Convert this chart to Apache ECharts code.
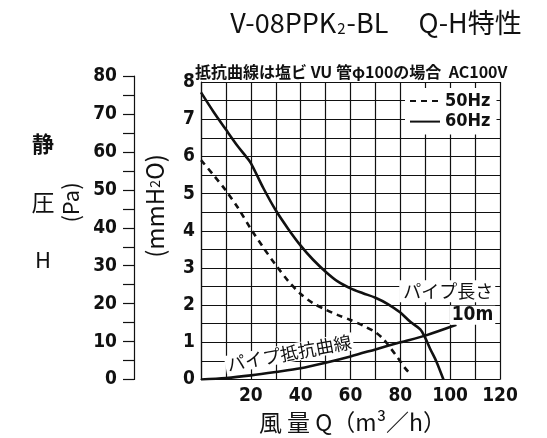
<!DOCTYPE html>
<html><head><meta charset="utf-8">
<script src="https://cdn.jsdelivr.net/npm/echarts@6/dist/echarts.min.js"></script>
<style>html,body{margin:0;padding:0;background:#fff}#c{width:547px;height:438px}</style>
</head><body><div id="c"></div>
<script>
// ---- data ----
const flowTicks = [20, 40, 60, 80, 100, 120];           // 風量 Q (m³/h)
const mmTicks = [0, 1, 2, 3, 4, 5, 6, 7, 8];            // mmH2O
const paTicks = [0, 10, 20, 30, 40, 50, 60, 70, 80];    // Pa
const hz60 = [[0,7.72],[5,7.2],[10,6.72],[15,6.25],[18,6.0],[20,5.82],[25,5.15],[30,4.55],[35,4.05],[40,3.6],[45,3.22],[50,2.9],[55,2.63],[60,2.45],[65,2.32],[70,2.2],[75,2.03],[80,1.8],[84,1.55],[88,1.35],[90,1.12],[92,0.82],[94.5,0.48],[97.3,0]];
const hz50 = [[0,5.9],[5,5.5],[10,5.08],[15,4.6],[20,4.05],[25,3.55],[30,3.08],[35,2.65],[40,2.3],[45,2.05],[50,1.88],[55,1.73],[60,1.6],[65,1.45],[70,1.27],[73,1.1],[76,0.85],[79,0.58],[82,0.3],[84,0.15]];
const pipe = [[0,0],[10,0.04],[20,0.11],[30,0.2],[40,0.3],[50,0.45],[60,0.62],[70,0.81],[80,1.0],[90,1.18],[102.5,1.47]];
const seriesNames = ['50Hz', '60Hz'];

const NUM = '"Liberation Sans Narrow","DejaVu Sans Condensed",sans-serif';
const JP = '"Noto Sans CJK JP",sans-serif';
const INK = '#111';

const chart = echarts.init(document.getElementById('c'));
chart.setOption({
  animation: false,
  backgroundColor: '#fff',
  grid: [
    {left: 201, right: 47, top: 82, bottom: 58.5},
    {left: 134, width: 1, top: 76.1, bottom: 58.5}
  ],
  xAxis: [
    {gridIndex: 0, type: 'value', min: 0, max: 120, interval: 10,
     axisLine: {show: true, lineStyle: {color: INK, width: 1.2}},
     axisTick: {show: false},
     axisLabel: {margin: 7, color: INK, fontSize: 19, fontWeight: 'bold', fontFamily: NUM,
       formatter: v => flowTicks.includes(v) ? String(v) : ''},
     splitLine: {show: true, lineStyle: {color: INK, width: 1.2}}},
    {gridIndex: 1, type: 'value', min: 0, max: 1, show: false}
  ],
  yAxis: [
    {gridIndex: 0, type: 'value', min: 0, max: 8, interval: 0.5,
     axisLine: {show: true, lineStyle: {color: INK, width: 1.2}},
     axisTick: {show: false},
     axisLabel: {margin: 6, color: INK, fontSize: 19, fontWeight: 'bold', fontFamily: NUM,
       formatter: v => mmTicks.includes(v) ? String(v) : ''},
     splitLine: {show: true, lineStyle: {color: INK, width: 1.2}}},
    {gridIndex: 1, type: 'value', min: 0, max: 80, interval: 5,
     axisLine: {show: true, lineStyle: {color: INK, width: 1.2}},
     axisTick: {show: true, length: 11, lineStyle: {color: INK, width: 1.2}},
     axisLabel: {margin: 17, color: INK, fontSize: 19, fontWeight: 'bold', fontFamily: NUM,
       formatter: v => paTicks.includes(v) ? String(v) : ''},
     splitLine: {show: false}}
  ],
  legend: {
    data: seriesNames, orient: 'vertical', left: 405, top: 88,
    backgroundColor: '#fff', padding: [4, 6, 4, 4],
    itemWidth: 30, itemHeight: 12, itemGap: 2.6,
    itemStyle: {opacity: 0},
    textStyle: {color: INK, fontSize: 18, fontWeight: 'bold', fontFamily: NUM, lineHeight: 16}
  },
  series: [
    {name: '50Hz', type: 'line', data: hz50, symbol: 'none', smooth: 0.3, z: 3,
     itemStyle: {color: INK}, lineStyle: {color: INK, width: 2.6, type: [6, 5]}},
    {name: '60Hz', type: 'line', data: hz60, symbol: 'none', smooth: 0.3, z: 3,
     itemStyle: {color: INK}, lineStyle: {color: INK, width: 2.6}},
    {name: 'パイプ抵抗曲線', type: 'line', data: pipe, symbol: 'none', smooth: 0.3, z: 3,
     itemStyle: {color: INK}, lineStyle: {color: INK, width: 2.6}}
  ]
});

const px = p => chart.convertToPixel({gridIndex: 0}, p);
const pLen = px([118.1, 2.37]);
const p10m = px([118.1, 1.73]);
const pPipe = px([35.4, 0.71]);

chart.setOption({
  graphic: [
    {type: 'text', x: 376, y: 22.5, style: {
      text: '{a|V-08PPK}{s|2}{a|-BL     Q-H特性}', align: 'center', verticalAlign: 'middle',
      rich: {a: {fontSize: 27, fontFamily: JP, fill: INK}, s: {fontSize: 15, fontFamily: JP, fill: INK, verticalAlign: 'bottom', padding: [9,1,0,1]}}}},
    {type: 'text', x: 195, y: 71.5, style: {
      text: '抵抗曲線は塩ビ VU 管φ100の場合  AC100V', align: 'left', verticalAlign: 'middle',
      fontSize: 16, fontWeight: 'bold', fontFamily: JP, fill: INK}},
    {type: 'text', x: 43, y: 144, style: {text: '静', align: 'center', verticalAlign: 'middle', fontSize: 22, fontWeight: 'bold', fontFamily: JP, fill: INK}},
    {type: 'text', x: 43, y: 202, style: {text: '圧', align: 'center', verticalAlign: 'middle', fontSize: 23, fontFamily: JP, fill: INK}},
    {type: 'text', x: 43, y: 260, style: {text: 'H', align: 'center', verticalAlign: 'middle', fontSize: 22, fontFamily: JP, fill: INK}},
    {type: 'text', x: 71, y: 202.5, rotation: Math.PI / 2, style: {text: '(Pa)', align: 'center', verticalAlign: 'middle', fontSize: 22, fontFamily: JP, fill: INK}},
    {type: 'text', x: 155, y: 206, rotation: Math.PI / 2, style: {
      text: '{a|(mmH}{s|2}{a|O)}', align: 'center', verticalAlign: 'middle',
      rich: {a: {fontSize: 24, fontFamily: JP, fill: INK}, s: {fontSize: 14, fontFamily: JP, fill: INK}}}},
    {type: 'text', x: 352.5, y: 422.5, style: {text: '風 量 Q（m³／h）', align: 'center', verticalAlign: 'middle', fontSize: 23, fontFamily: JP, fill: INK}},
    {type: 'text', x: pLen[0], y: pLen[1], z: 10, style: {text: 'パイプ長さ', align: 'right', verticalAlign: 'middle', fontSize: 18, fontFamily: JP, fill: INK, backgroundColor: '#fff', padding: [2, 2, 2, 4]}},
    {type: 'text', x: p10m[0], y: p10m[1], z: 10, style: {text: '10m', align: 'right', verticalAlign: 'middle', fontSize: 19, fontWeight: 'bold', fontFamily: NUM, fill: INK, backgroundColor: '#fff', padding: [0, 2, 0, 2]}},
    {type: 'text', x: pPipe[0], y: pPipe[1], z: 10, rotation: 10.6 * Math.PI / 180, style: {text: 'パイプ抵抗曲線', align: 'center', verticalAlign: 'middle', fontSize: 18, fontFamily: JP, fill: INK, backgroundColor: '#fff', padding: [0, 2, 0, 2]}}
  ]
});
</script></body></html>
